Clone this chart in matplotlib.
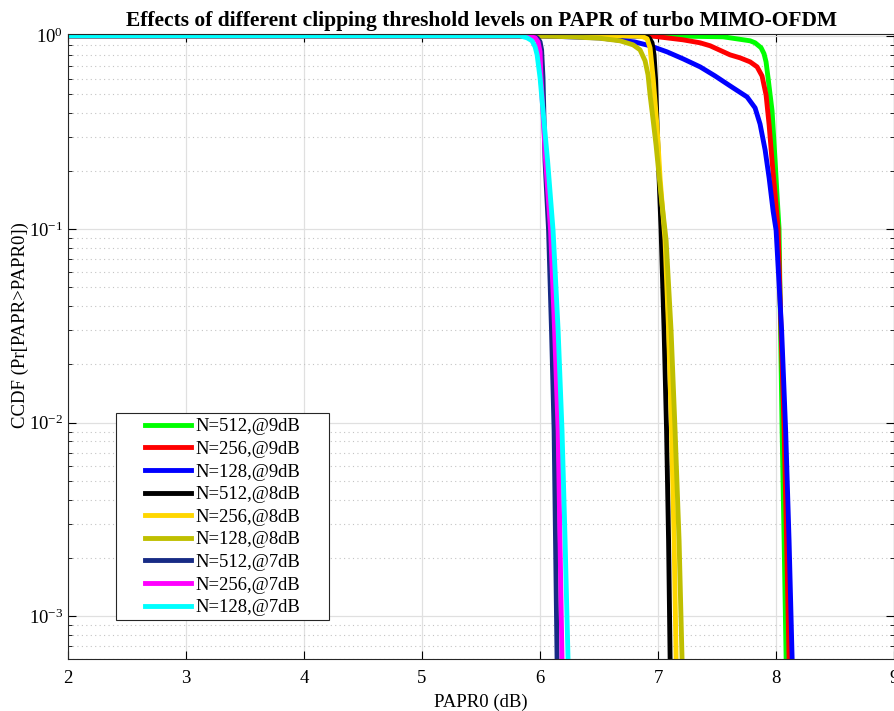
import matplotlib
matplotlib.use('Agg')
from matplotlib import pyplot as plt
from matplotlib.patches import Rectangle
from matplotlib.ticker import LogLocator, LogFormatterSciNotation, NullFormatter

plt.rcParams['font.family'] = ['Liberation Serif', 'DejaVu Serif']
plt.rcParams['mathtext.fontset'] = 'stix'

# curves (PAPR0 in dB, CCDF)
x_512_9 = [2, 7.0, 7.551, 7.78, 7.822, 7.873, 7.898, 7.915, 7.932, 7.966, 7.992, 8.008, 8.025,
           8.038, 8.051, 8.068, 8.085, 8.09]
y_512_9 = [1, 1.0, 0.988, 0.942, 0.920, 0.867, 0.807, 0.733, 0.606, 0.409, 0.225, 0.150, 0.101,
           0.030, 0.0091, 0.00245, 0.0006, 0.0004]

x_256_9 = [2, 6.932, 7.212, 7.356, 7.441, 7.61, 7.695, 7.78, 7.839, 7.881, 7.915, 7.941, 7.966,
           7.992, 8.017, 8.042, 8.068, 8.089, 8.11, 8.115]
y_256_9 = [1, 1.0, 0.953, 0.920, 0.888, 0.797, 0.769, 0.733, 0.691, 0.620, 0.495, 0.346, 0.225,
           0.150, 0.101, 0.030, 0.0091, 0.00245, 0.0006, 0.0004]

x_128_9 = [2, 6.0, 6.5, 6.8, 6.932, 7.076, 7.212, 7.356, 7.483, 7.61, 7.754, 7.822, 7.864, 7.907,
           7.941, 7.975, 8.0, 8.047, 8.081, 8.11, 8.136, 8.14]
y_128_9 = [1, 1.0, 0.975, 0.93, 0.888, 0.826, 0.760, 0.691, 0.620, 0.551, 0.483, 0.424, 0.350, 0.257,
           0.184, 0.124, 0.0988, 0.030, 0.0091, 0.00245, 0.0006, 0.0004]

x_512_8 = [2, 6.89, 6.924, 6.949, 6.966, 6.979, 6.992, 7.025, 7.051, 7.072, 7.089, 7.102, 7.105]
y_512_8 = [1, 1.0, 0.976, 0.920, 0.797, 0.592, 0.334, 0.101, 0.030, 0.0091, 0.00245, 0.0006, 0.0004]

x_256_8 = [2, 6.805, 6.873, 6.907, 6.932, 6.958, 6.992, 7.017, 7.042, 7.059, 7.089, 7.114, 7.136,
           7.153, 7.156]
y_256_8 = [1, 1.0, 0.988, 0.965, 0.867, 0.606, 0.334, 0.184, 0.118, 0.0877, 0.030, 0.0091, 0.00245,
           0.0006, 0.0004]

x_128_8 = [2, 6.0, 6.254, 6.508, 6.678, 6.788, 6.847, 6.89, 6.915, 6.932, 6.958, 6.983, 7.025,
           7.068, 7.11, 7.144, 7.178, 7.203, 7.206]
y_128_8 = [1, 1.0, 0.988, 0.971, 0.942, 0.898, 0.846, 0.742, 0.628, 0.495, 0.367, 0.272, 0.150,
           0.0877, 0.030, 0.0091, 0.00245, 0.0006, 0.0004]

x_512_7 = [2, 5.932, 5.975, 6.0, 6.013, 6.025, 6.042, 6.072, 6.097, 6.119, 6.131, 6.144, 6.146]
y_512_7 = [1, 1.0, 0.976, 0.931, 0.846, 0.606, 0.225, 0.0988, 0.030, 0.0091, 0.00245, 0.0006, 0.0004]

x_256_7 = [2, 5.898, 5.958, 5.983, 6.0, 6.008, 6.047, 6.089, 6.123, 6.153, 6.169, 6.186, 6.188]
y_256_7 = [1, 1.0, 0.976, 0.931, 0.826, 0.606, 0.225, 0.0988, 0.030, 0.0091, 0.00245, 0.0006, 0.0004]

x_128_7 = [2, 5.831, 5.89, 5.932, 5.958, 5.975, 6.0, 6.025, 6.064, 6.11, 6.153, 6.186, 6.212,
           6.237, 6.24]
y_128_7 = [1, 1.0, 0.976, 0.942, 0.877, 0.797, 0.606, 0.409, 0.225, 0.0988, 0.030, 0.0091, 0.00245,
           0.0006, 0.0004]

labels = ['N=512,@9dB', 'N=256,@9dB', 'N=128,@9dB',
          'N=512,@8dB', 'N=256,@8dB', 'N=128,@8dB',
          'N=512,@7dB', 'N=256,@7dB', 'N=128,@7dB']
colors = ['#00ff00', '#ff0000', '#0000ff',
          '#000000', '#ffd700', '#bfbf00',
          '#172b85', '#ff00ff', '#00ffff']
xs = [x_512_9, x_256_9, x_128_9, x_512_8, x_256_8, x_128_8, x_512_7, x_256_7, x_128_7]
ys = [y_512_9, y_256_9, y_128_9, y_512_8, y_256_8, y_128_8, y_512_7, y_256_7, y_128_7]

fig = plt.figure(figsize=(8.95, 7.11), dpi=100)
ax = fig.add_axes([0.076, 0.073, 0.923, 0.879])

for x, y, c, lab in zip(xs, ys, colors, labels):
    ax.semilogy(x, y, color=c, linewidth=3.5, label=lab, solid_joinstyle='round')

ax.set_xlim(2, 9)
ax.set_ylim(6e-4, 1.02)
ax.yaxis.set_major_locator(LogLocator(base=10))
ax.yaxis.set_major_formatter(LogFormatterSciNotation())
ax.yaxis.set_minor_locator(LogLocator(base=10, subs=range(2, 10)))
ax.yaxis.set_minor_formatter(NullFormatter())

ax.grid(True, which='major', color='#e0e0e0', linewidth=0.9, linestyle='-')
ax.grid(True, which='minor', axis='y', color='#c4c4c4', linewidth=0.8, linestyle=(0, (1, 3)))
ax.set_axisbelow(True)

ax.tick_params(which='both', direction='in', top=True, right=True, labelsize=13.5)
ax.tick_params(axis='x', pad=8)
ax.tick_params(which='major', length=6)
ax.tick_params(which='minor', length=3)
for s in ax.spines.values():
    s.set_color('#262626')
    s.set_linewidth(0.8)

ax.set_title('Effects of different clipping threshold levels on PAPR of turbo MIMO-OFDM',
             fontsize=15.5, fontweight='bold', pad=6)
ax.set_xlabel('PAPR0 (dB)', fontsize=13.5, labelpad=5)
ax.set_ylabel('CCDF (Pr[PAPR>PAPR0])', fontsize=13.5)
ax.yaxis.set_label_coords(-0.047, 0.535)

# legend box drawn separately so its padding matches the reference
ax.add_patch(Rectangle((0.058, 0.0624), 0.258, 0.3316, transform=ax.transAxes,
                       facecolor='white', edgecolor='#262626', linewidth=0.8, zorder=4))
leg = ax.legend(loc='center', bbox_to_anchor=(0.187, 0.227), fontsize=13.4,
                frameon=False, handlelength=2.47, labelspacing=0.3,
                borderpad=0.2, handletextpad=0.22)
leg.set_zorder(5)

fig.savefig('out.png', dpi=100)
